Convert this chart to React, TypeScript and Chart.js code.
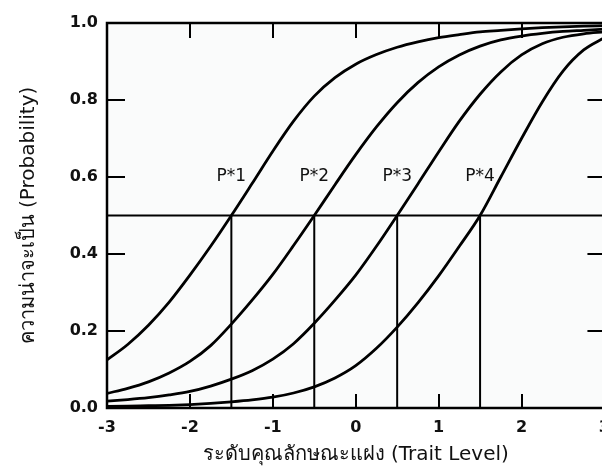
import { useEffect, useLayoutEffect, useRef } from 'react';
import { Chart, registerables } from 'chart.js';

Chart.register(...registerables);

// ---- data ----
const thetaValues = [
  -3, -2.75, -2.5, -2.25, -2, -1.75, -1.5, -1.25, -1, -0.75, -0.5, -0.25, 0,
  0.25, 0.5, 0.75, 1, 1.25, 1.5, 1.75, 2, 2.25, 2.5, 2.75, 3,
];
const curveP1 = [
  0.125, 0.165, 0.215, 0.275, 0.345, 0.42, 0.5, 0.583, 0.667, 0.745, 0.81, 0.858, 0.893,
  0.918, 0.937, 0.951, 0.962, 0.97, 0.977, 0.981, 0.985, 0.988, 0.99, 0.992, 0.993,
];
const curveP2 = [
  0.038, 0.051, 0.068, 0.091, 0.121, 0.162, 0.218, 0.28, 0.347, 0.422, 0.5, 0.58, 0.658,
  0.73, 0.793, 0.845, 0.886, 0.917, 0.94, 0.956, 0.966, 0.973, 0.978, 0.981, 0.984,
];
const curveP3 = [
  0.018, 0.022, 0.027, 0.034, 0.043, 0.057, 0.075, 0.097, 0.127, 0.167, 0.22, 0.28, 0.345,
  0.42, 0.5, 0.582, 0.665, 0.745, 0.815, 0.873, 0.917, 0.946, 0.963, 0.972, 0.977,
];
const curveP4 = [
  0.004, 0.005, 0.006, 0.007, 0.009, 0.012, 0.016, 0.021, 0.028, 0.039, 0.055, 0.078, 0.11,
  0.155, 0.21, 0.273, 0.343, 0.42, 0.5, 0.6, 0.7, 0.795, 0.875, 0.93, 0.962,
];
const curves = [curveP1, curveP2, curveP3, curveP4];
const thresholds = [-1.5, -0.5, 0.5, 1.5];
const thresholdLabels = ['P*1', 'P*2', 'P*3', 'P*4'];
const labelLevel = 0.6;
const halfLevel = 0.5;
const xInnerTicks = [-2, -1, 0, 1, 2];
const yInnerTicks = [0.2, 0.4, 0.6, 0.8];
const xMin = -3;
const xMax = 3;
const yMin = 0;
const yMax = 1;
const xTitle = 'ระดับคุณลักษณะแฝง (Trait Level)';
const yTitle = 'ความน่าจะเป็น (Probability)';

const FONT = "'DejaVu Sans', 'Noto Sans', sans-serif";
const INK = '#111111';

export default function App() {
  const ref = useRef<HTMLCanvasElement | null>(null);

  useLayoutEffect(() => {
    document.body.style.margin = '0';
  }, []);

  useEffect(() => {
    const canvas = ref.current;
    if (!canvas) return;

    const bgPlugin = {
      id: 'plotBg',
      beforeDatasetsDraw(chart: any) {
        const { ctx, chartArea: a } = chart;
        ctx.save();
        ctx.fillStyle = 'rgb(250,251,251)';
        ctx.fillRect(a.left, a.top, a.right - a.left, a.bottom - a.top);
        ctx.restore();
      },
    };

    const framePlugin = {
      id: 'frame',
      afterDatasetsDraw(chart: any) {
        const { ctx, chartArea: a } = chart;
        const xs = chart.scales.x;
        const ys = chart.scales.y;
        ctx.save();
        ctx.strokeStyle = '#000';
        ctx.lineWidth = 2.5;
        ctx.strokeRect(a.left, a.top, a.right - a.left, a.bottom - a.top);
        ctx.lineWidth = 2;
        ctx.beginPath();
        xInnerTicks.forEach((v) => {
          const px = Math.round(xs.getPixelForValue(v));
          ctx.moveTo(px, a.bottom);
          ctx.lineTo(px, a.bottom - 14);
          ctx.moveTo(px, a.top);
          ctx.lineTo(px, a.top + 15);
        });
        yInnerTicks.forEach((v) => {
          const py = Math.round(ys.getPixelForValue(v));
          ctx.moveTo(a.left, py);
          ctx.lineTo(a.left + 18, py);
          ctx.moveTo(a.right, py);
          ctx.lineTo(a.right - 17, py);
        });
        ctx.stroke();

        ctx.fillStyle = INK;
        ctx.font = `17px ${FONT}`;
        ctx.textAlign = 'center';
        ctx.textBaseline = 'middle';
        thresholds.forEach((t, i) => {
          ctx.fillText(thresholdLabels[i], xs.getPixelForValue(t), ys.getPixelForValue(labelLevel));
        });
        ctx.restore();
      },
    };

    const curveSets = curves.map((c, k) => ({
      label: thresholdLabels[k],
      data: thetaValues.map((x, i) => ({ x, y: c[i] })),
      borderColor: '#000',
      borderWidth: 2.8,
      pointRadius: 0,
      cubicInterpolationMode: 'monotone' as const,
      fill: false,
    }));
    const hLine = {
      label: 'half',
      data: [
        { x: xMin, y: halfLevel },
        { x: xMax, y: halfLevel },
      ],
      borderColor: '#000',
      borderWidth: 2,
      pointRadius: 0,
      tension: 0,
      fill: false,
    };
    const vLines = thresholds.map((t, k) => ({
      label: 'v' + k,
      data: [
        { x: t, y: yMin },
        { x: t, y: halfLevel },
      ],
      borderColor: '#000',
      borderWidth: 2,
      pointRadius: 0,
      tension: 0,
      fill: false,
    }));

    const chart = new Chart(canvas, {
      type: 'line',
      data: { datasets: [hLine, ...vLines, ...curveSets] as any },
      options: {
        responsive: false,
        animation: false,
        devicePixelRatio: 1,
        layout: { padding: { left: 0, top: 23, right: 15, bottom: 0 } },
        plugins: { legend: { display: false }, tooltip: { enabled: false } },
        scales: {
          x: {
            type: 'linear',
            min: xMin,
            max: xMax,
            grid: { display: false, drawTicks: false },
            border: { display: false },
            ticks: {
              stepSize: 1,
              padding: 10,
              color: INK,
              font: { family: FONT, size: 16, weight: 'bold' },
              callback: (v: any) => String(v),
            },
            title: {
              display: true,
              text: xTitle,
              color: INK,
              font: { family: FONT, size: 20, lineHeight: 1 },
              padding: { top: 0, bottom: 7 },
            },
            afterFit: (s: any) => {
              s.height = 64;
            },
          },
          y: {
            type: 'linear',
            min: yMin,
            max: yMax,
            grid: { display: false, drawTicks: false },
            border: { display: false },
            ticks: {
              stepSize: 0.2,
              padding: 9,
              color: INK,
              font: { family: FONT, size: 16, weight: 'bold' },
              callback: (v: any) => Number(v).toFixed(1),
            },
            title: {
              display: true,
              text: yTitle,
              color: INK,
              font: { family: FONT, size: 20, lineHeight: 1.2 },
              padding: { top: 17, bottom: 0 },
            },
            afterFit: (s: any) => {
              s.width = 107;
            },
          },
        },
      },
      plugins: [bgPlugin, framePlugin],
    });
    return () => chart.destroy();
  }, []);

  return (
    <div style={{ width: 602, height: 472, overflow: 'hidden', position: 'relative' }}>
      <canvas ref={ref} width={620} height={472} style={{ display: 'block' }} />
    </div>
  );
}
